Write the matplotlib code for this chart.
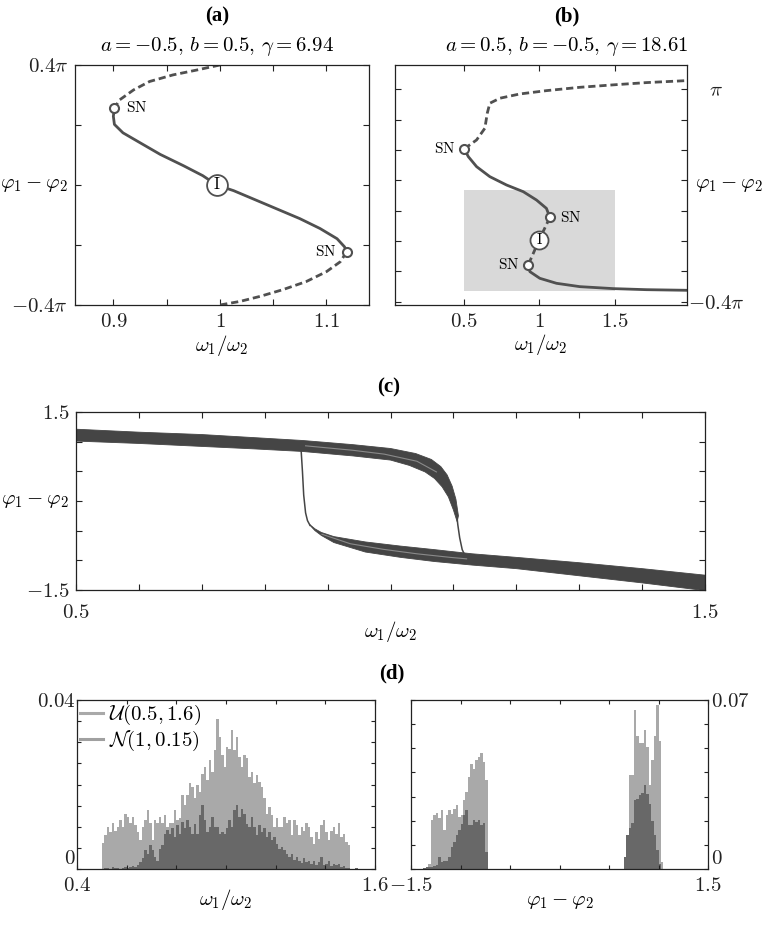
import numpy as np
import matplotlib
matplotlib.use("Agg")
import matplotlib.pyplot as plt
from matplotlib.lines import Line2D

# ---------------- data ----------------
# panel (a): a=-0.5, b=0.5, gamma=6.94 ; phase difference in units of pi
a_dash_top_x = [1.000, 0.978, 0.956, 0.934, 0.919, 0.906, 0.901]
a_dash_top_y = [0.400, 0.383, 0.367, 0.345, 0.317, 0.284, 0.257]
a_solid_x = [0.901, 0.900, 0.901, 0.909, 0.925, 0.944, 0.966, 0.984, 0.997,
             1.013, 1.031, 1.053, 1.075, 1.094, 1.110, 1.117, 1.119]
a_solid_y = [0.257, 0.229, 0.202, 0.174, 0.141, 0.102, 0.064, 0.031, 0.000,
             -0.019, -0.046, -0.079, -0.112, -0.145, -0.179, -0.206, -0.223]
a_dash_bot_x = [1.119, 1.113, 1.100, 1.081, 1.059, 1.038, 1.019, 1.000]
a_dash_bot_y = [-0.223, -0.256, -0.289, -0.322, -0.349, -0.371, -0.388, -0.400]
a_sn_x = [0.901, 1.119]
a_sn_y = [0.257, -0.223]
a_i_x = [0.997]
a_i_y = [0.000]

# panel (b): a=0.5, b=-0.5, gamma=18.61 ; phase difference in units of pi
b_dash_top_x = [0.500, 0.582, 0.637, 0.653, 0.670, 0.737, 0.869, 1.046, 1.268, 1.489, 1.710, 1.976]
b_dash_top_y = [0.607, 0.666, 0.743, 0.842, 0.908, 0.941, 0.969, 0.991, 1.013, 1.029, 1.044, 1.057]
b_solid1_x = [0.500, 0.527, 0.582, 0.670, 0.781, 0.892, 0.980, 1.046, 1.069]
b_solid1_y = [0.607, 0.556, 0.490, 0.424, 0.369, 0.325, 0.270, 0.215, 0.156]
b_dash_mid_x = [1.069, 0.998, 0.925]
b_dash_mid_y = [0.156, 0.007, -0.158]
b_solid2_x = [0.925, 0.936, 1.002, 1.113, 1.268, 1.489, 1.710, 1.976]
b_solid2_y = [-0.158, -0.202, -0.246, -0.279, -0.301, -0.314, -0.321, -0.325]
b_sn_x = [0.500, 1.069, 0.925]
b_sn_y = [0.607, 0.156, -0.158]
b_i_x = [0.998]
b_i_y = [0.007]
b_box_x = [0.5, 1.5]
b_box_y = [-0.333, 0.333]

# panel (c): band of trajectories
c_up_top_x = [0.50, 0.60, 0.70, 0.78, 0.86, 0.94, 1.00, 1.04, 1.065, 1.08, 1.09, 1.098, 1.104, 1.108]
c_up_top_y = [1.21, 1.16, 1.12, 1.07, 1.02, 0.95, 0.885, 0.80, 0.70, 0.58, 0.44, 0.25, 0.03, -0.25]
c_up_bot_x = [0.50, 0.60, 0.70, 0.78, 0.86, 0.94, 1.00, 1.03, 1.055, 1.07, 1.082, 1.092, 1.100, 1.106]
c_up_bot_y = [1.01, 0.97, 0.92, 0.88, 0.835, 0.76, 0.69, 0.60, 0.49, 0.38, 0.24, 0.07, -0.15, -0.35]
c_lo_top_x = [0.872, 0.880, 0.890, 0.91, 0.96, 1.016, 1.07, 1.13, 1.20, 1.30, 1.40, 1.50]
c_lo_top_y = [-0.40, -0.47, -0.53, -0.60, -0.69, -0.76, -0.82, -0.89, -0.95, -1.04, -1.14, -1.25]
c_lo_bot_x = [0.872, 0.880, 0.890, 0.91, 0.96, 1.016, 1.07, 1.13, 1.20, 1.30, 1.40, 1.50]
c_lo_bot_y = [-0.41, -0.50, -0.58, -0.70, -0.86, -0.95, -1.02, -1.08, -1.14, -1.26, -1.38, -1.51]
c_jump_left_x = [0.858, 0.860, 0.862, 0.865, 0.868, 0.872]
c_jump_left_y = [0.84, 0.50, 0.10, -0.20, -0.33, -0.41]
c_jump_right_x = [1.104, 1.107, 1.110, 1.114, 1.119, 1.126]
c_jump_right_y = [-0.10, -0.40, -0.62, -0.82, -0.93, -0.97]
c_strand_up_x = [0.865, 0.94, 0.99, 1.042, 1.073]
c_strand_up_y = [0.93, 0.855, 0.79, 0.67, 0.49]
c_strand_lo_x = [0.891, 0.936, 0.989, 1.042, 1.095, 1.121]
c_strand_lo_y = [-0.56, -0.72, -0.815, -0.89, -0.95, -0.975]

# panel (d) left: histograms of omega1/omega2 (bin width 0.01 starting at 0.50)
d1_bin_start = 0.50
d1_bin_width = 0.01
d1_light = np.array([
    6.2, 8.0, 10.0, 8.8, 11.0, 9.0, 10.0, 11.5, 10.0, 13.0,
    12.3, 11.0, 12.3, 10.3, 8.8, 6.8, 10.0, 11.5, 13.9, 11.0,
    6.8, 11.5, 11.0, 12.3, 11.0, 12.7, 10.0, 11.0, 11.0, 13.9,
    11.5, 12.0, 17.5, 15.1, 17.5, 20.3, 19.5, 16.7, 19.9, 18.3,
    22.6, 24.2, 21.0, 25.8, 23.0, 28.1, 35.6, 31.3, 27.0, 24.2,
    28.9, 28.5, 32.9, 28.1, 31.3, 26.6, 24.2, 27.0, 26.2, 21.8,
    23.0, 20.3, 22.2, 20.6, 19.5, 16.7, 13.1, 14.7, 12.7, 10.0,
    12.0, 10.0, 10.0, 12.3, 11.0, 11.5, 8.0, 11.5, 10.3, 8.0,
    10.0, 9.0, 11.0, 10.0, 7.6, 6.0, 8.8, 7.2, 10.3, 11.5,
    8.8, 6.8, 9.0, 10.0, 8.4, 11.0, 7.6, 8.4, 6.4, 5.6]) * 1e-3
d1_dark = np.array([
    0.0, 0.3, 0.2, 0.0, 0.4, 0.2, 0.3, 0.0, 0.2, 0.5,
    0.3, 0.4, 0.6, 0.5, 1.0, 1.7, 2.5, 4.4, 3.6, 5.6,
    4.4, 2.8, 2.0, 4.8, 5.6, 8.4, 9.3, 8.4, 9.6, 7.6,
    10.4, 8.4, 11.1, 9.6, 11.5, 10.0, 8.4, 10.7, 8.4, 12.7,
    15.1, 11.5, 8.8, 10.0, 12.3, 10.0, 10.0, 8.4, 8.8, 8.4,
    9.6, 11.5, 10.0, 13.9, 15.1, 12.3, 14.3, 13.1, 10.7, 10.0,
    12.3, 10.0, 8.0, 10.4, 8.8, 9.6, 7.6, 8.8, 6.8, 7.6,
    6.0, 4.8, 5.2, 4.4, 3.6, 2.8, 3.6, 2.2, 2.8, 2.0,
    1.4, 2.5, 1.7, 2.0, 1.1, 1.9, 0.9, 1.7, 2.8, 0.9,
    1.3, 2.0, 0.6, 1.3, 0.9, 1.1, 0.5, 0.6, 0.3, 0.2,
    0.0, 0.0, 0.3, 0.0, 0.0]) * 1e-3

# panel (d) right: histograms of phi1 - phi2 (bin width 0.025)
d2_bin_width = 0.025
d2_left_start = -1.375
d2_left_light = np.array([0, 0, 2.2, 20.2, 22.2, 23.2, 21.3, 24.3, 16.0, 22.2, 24.6, 22.9, 25.0,
                          26.4, 21.5, 22.2, 28.5, 31.9, 38.2, 43.4, 41.6, 45.1, 46.2, 48.1, 44.4, 36.8]) * 1e-3
d2_left_dark = np.array([0.5, 0.7, 1.0, 1.0, 1.2, 1.5, 4.9, 2.8, 3.5, 3.5, 4.9, 9.1, 11.1,
                         13.9, 16.0, 18.8, 22.2, 24.3, 18.1, 18.1, 20.2, 19.5, 20.2, 18.1, 19.0, 7.0]) * 1e-3
d2_right_start = 0.65
d2_right_light = np.array([0, 9, 39, 39, 66, 55, 52, 52, 57.5, 50.6, 35, 45, 55, 68, 53, 3]) * 1e-3
d2_right_dark = np.array([5, 14, 17, 19, 28.5, 29, 30.5, 31.5, 34.7, 31, 27, 20, 14, 8, 2, 0]) * 1e-3

legend_labels = [r'$\mathcal{U}(0.5, 1.6)$', r'$\mathcal{N}(1, 0.15)$']

# ---------------- style ----------------
plt.rcParams['font.family'] = ['Liberation Serif', 'DejaVu Serif']
plt.rcParams['mathtext.fontset'] = 'cm'
plt.rcParams['font.size'] = 15
plt.rcParams['axes.linewidth'] = 0.9
plt.rcParams['xtick.direction'] = 'in'
plt.rcParams['ytick.direction'] = 'in'

LINE = '#505050'
BAND = '#454545'
LIGHT = '#a9a9a9'
DARK = '#686868'

W, H = 767, 926
fig = plt.figure(figsize=(W / 100, H / 100), dpi=100)


def rect(l, r, t, b):
    return [l / W, 1 - b / H, (r - l) / W, (b - t) / H]


def ticks_style(ax, xpad=5.5, ypad=5):
    ax.tick_params(axis='both', which='both', direction='in', length=4, width=0.8,
                   top=True, right=True, labelsize=15, colors='#222222')
    ax.tick_params(axis='x', pad=xpad)
    ax.tick_params(axis='y', pad=ypad)
    for s in ax.spines.values():
        s.set_color('#222222')


def m(s):
    return '$' + s + '$'


# ---------------- (a) ----------------
axA = fig.add_axes(rect(75, 369, 65, 305))
axA.plot(a_dash_top_x, a_dash_top_y, color=LINE, lw=2.0, dashes=(2.6, 1.4))
axA.plot(a_solid_x, a_solid_y, color=LINE, lw=2.0, solid_joinstyle='round')
axA.plot(a_dash_bot_x, a_dash_bot_y, color=LINE, lw=2.0, dashes=(2.6, 1.4))
axA.plot(a_sn_x, a_sn_y, 'o', ms=6.5, mfc='white', mec=LINE, mew=1.5, zorder=5)
axA.plot(a_i_x, a_i_y, 'o', ms=15, mfc='white', mec=LINE, mew=1.3, zorder=5)
axA.text(a_i_x[0], a_i_y[0], m(r'\mathrm{I}'), ha='center', va='center', fontsize=12, zorder=6)
axA.annotate(m(r'\mathrm{SN}'), (a_sn_x[0], a_sn_y[0]), xytext=(8, 0), textcoords='offset points',
             ha='left', va='center', fontsize=11)
axA.annotate(m(r'\mathrm{SN}'), (a_sn_x[1], a_sn_y[1]), xytext=(-7, 0), textcoords='offset points',
             ha='right', va='center', fontsize=11)
axA.set_xlim(0.864, 1.14)
axA.set_ylim(-0.4, 0.4)
axA.set_xticks([0.9, 0.95, 1.0, 1.05, 1.1])
axA.set_xticklabels([m('0.9'), '', m('1'), '', m('1.1')])
axA.set_yticks([-0.4, -0.2, 0.0, 0.2, 0.4])
axA.set_yticklabels([m(r'-0.4\pi'), '', '', '', m(r'0.4\pi')])
ticks_style(axA)
axA.set_xlabel(m(r'\omega_1/\omega_2'), fontsize=15, va='center')
axA.xaxis.set_label_coords(0.5, -0.167)
axA.set_ylabel(m(r'\varphi_1-\varphi_2'), fontsize=15, rotation=0, ha='right', va='center')
axA.yaxis.set_label_coords(-0.024, 0.5)

# ---------------- (b) ----------------
axB = fig.add_axes(rect(395, 687, 65, 305))
axB.fill_between(b_box_x, b_box_y[0], b_box_y[1], color='#d9d9d9', lw=0, zorder=0)
axB.plot(b_dash_top_x, b_dash_top_y, color=LINE, lw=2.0, dashes=(2.6, 1.4))
axB.plot(b_solid1_x, b_solid1_y, color=LINE, lw=2.0)
axB.plot(b_dash_mid_x, b_dash_mid_y, color=LINE, lw=2.0, dashes=(2.6, 1.4))
axB.plot(b_solid2_x, b_solid2_y, color=LINE, lw=2.0)
axB.plot(b_sn_x, b_sn_y, 'o', ms=6.5, mfc='white', mec=LINE, mew=1.5, zorder=5)
axB.plot(b_i_x, b_i_y, 'o', ms=13, mfc='white', mec=LINE, mew=1.3, zorder=5)
axB.text(b_i_x[0], b_i_y[0], m(r'\mathrm{I}'), ha='center', va='center', fontsize=11, zorder=6)
axB.annotate(m(r'\mathrm{SN}'), (b_sn_x[0], b_sn_y[0]), xytext=(-6, 0), textcoords='offset points',
             ha='right', va='center', fontsize=11)
axB.annotate(m(r'\mathrm{SN}'), (b_sn_x[1], b_sn_y[1]), xytext=(7, 0), textcoords='offset points',
             ha='left', va='center', fontsize=11)
axB.annotate(m(r'\mathrm{SN}'), (b_sn_x[2], b_sn_y[2]), xytext=(-6, 0), textcoords='offset points',
             ha='right', va='center', fontsize=11)
axB.set_xlim(0.04, 1.98)
axB.set_ylim(-0.422, 1.16)
axB.set_xticks([0.5, 1.0, 1.5])
axB.set_xticklabels([m('0.5'), m('1'), m('1.5')])
axB.set_yticks([-0.4, -0.2, 0.0, 0.2, 0.4, 0.6, 0.8, 1.0])
axB.set_yticklabels([m(r'-0.4\pi'), '', '', '', '', '', '', m(r'\pi')])
ticks_style(axB, ypad=21)
axB.tick_params(axis='y', labelleft=False, labelright=True)
for t in axB.get_yticklabels():
    t.set_ha('center')
axB.set_xlabel(m(r'\omega_1/\omega_2'), fontsize=15, va='center')
axB.xaxis.set_label_coords(0.5, -0.163)
axB.yaxis.set_label_position('right')
axB.set_ylabel(m(r'\varphi_1-\varphi_2'), fontsize=15, rotation=0, ha='left', va='center')
axB.yaxis.set_label_coords(1.027, 0.5)

# ---------------- (c) ----------------
axC = fig.add_axes(rect(76, 705, 412, 590))
axC.fill(np.concatenate([c_up_top_x, c_up_bot_x[::-1]]), np.concatenate([c_up_top_y, c_up_bot_y[::-1]]),
         color=BAND, lw=0.6, ec=BAND)
axC.fill(np.concatenate([c_lo_top_x, c_lo_bot_x[::-1]]), np.concatenate([c_lo_top_y, c_lo_bot_y[::-1]]),
         color=BAND, lw=0.6, ec=BAND)
axC.plot(c_jump_left_x, c_jump_left_y, color=BAND, lw=1.1)
axC.plot(c_jump_right_x, c_jump_right_y, color=BAND, lw=1.1)
axC.plot(c_strand_up_x, c_strand_up_y, color='#8a8a8a', lw=0.8)
axC.plot(c_strand_lo_x, c_strand_lo_y, color='#8a8a8a', lw=0.8)
axC.set_xlim(0.5, 1.5)
axC.set_ylim(-1.5, 1.5)
cx = np.round(np.arange(0.5, 1.51, 0.1), 2)
axC.set_xticks(cx)
axC.set_xticklabels([m('0.5')] + [''] * 9 + [m('1.5')])
axC.set_yticks([-1.5, -1.0, -0.5, 0.0, 0.5, 1.0, 1.5])
axC.set_yticklabels([m('-1.5'), '', '', '', '', '', m('1.5')])
ticks_style(axC, xpad=10, ypad=4.5)
axC.set_xlabel(m(r'\omega_1/\omega_2'), fontsize=15, va='center')
axC.xaxis.set_label_coords(0.5, -0.235)
axC.set_ylabel(m(r'\varphi_1-\varphi_2'), fontsize=15, rotation=0, ha='right', va='center')
axC.yaxis.set_label_coords(-0.0105, 0.5)

# ---------------- (d) left ----------------
axD1 = fig.add_axes(rect(77, 375, 700, 869))
e_light = d1_bin_start + d1_bin_width * np.arange(len(d1_light) + 1)
e_dark = d1_bin_start + d1_bin_width * np.arange(len(d1_dark) + 1)
axD1.stairs(d1_light, e_light, fill=True, color=LIGHT, lw=0)
axD1.stairs(d1_dark, e_dark, fill=True, color=DARK, lw=0)
axD1.set_xlim(0.4, 1.6)
axD1.set_ylim(0, 0.04)
axD1.set_xticks(np.round(np.arange(0.4, 1.61, 0.2), 2))
axD1.set_xticklabels([m('0.4')] + [''] * 5 + [m('1.6')])
axD1.set_yticks(np.round(np.arange(0, 0.0401, 0.005), 4))
axD1.set_yticklabels([m('0')] + [''] * 7 + [m('0.04')])
ticks_style(axD1, xpad=6, ypad=1)
axD1.tick_params(length=3)
axD1.get_yticklabels()[0].set_va('bottom')
axD1.set_xlabel(m(r'\omega_1/\omega_2'), fontsize=15, va='center')
axD1.xaxis.set_label_coords(0.5, -0.18)
handles = [Line2D([0], [0], color=LIGHT, lw=2.2), Line2D([0], [0], color='#a0a0a0', lw=2.2)]
axD1.legend(handles, legend_labels, loc='upper left', frameon=False, fontsize=15,
            handlelength=1.1, handletextpad=0.3, borderaxespad=0.05, borderpad=0.1,
            labelspacing=0.1)

# ---------------- (d) right ----------------
axD2 = fig.add_axes(rect(411, 708, 700, 869))
el = d2_left_start + d2_bin_width * np.arange(len(d2_left_light) + 1)
er = d2_right_start + d2_bin_width * np.arange(len(d2_right_light) + 1)
axD2.stairs(d2_left_light, el, fill=True, color=LIGHT, lw=0)
axD2.stairs(d2_right_light, er, fill=True, color=LIGHT, lw=0)
axD2.stairs(d2_left_dark, el, fill=True, color=DARK, lw=0)
axD2.stairs(d2_right_dark, er, fill=True, color=DARK, lw=0)
axD2.set_xlim(-1.5, 1.5)
axD2.set_ylim(0, 0.07)
axD2.set_xticks([-1.5, -1.0, -0.5, 0.0, 0.5, 1.0, 1.5])
axD2.set_xticklabels([m('-1.5'), '', '', '', '', '', m('1.5')])
axD2.set_yticks(np.round(np.arange(0, 0.0701, 0.01), 3))
axD2.set_yticklabels([m('0')] + [''] * 6 + [m('0.07')])
ticks_style(axD2, xpad=6, ypad=2)
axD2.tick_params(length=3)
axD2.tick_params(axis='y', labelleft=False, labelright=True)
axD2.get_yticklabels()[0].set_va('bottom')
axD2.set_xlabel(m(r'\varphi_1-\varphi_2'), fontsize=15, va='center')
axD2.xaxis.set_label_coords(0.5, -0.19)

# ---------------- titles ----------------
tkw = dict(ha='center', va='center', fontsize=15, fontweight='bold', family='Liberation Serif')
fig.text(217 / W, 1 - 16 / H, '(a)', **tkw)
fig.text(567 / W, 1 - 16 / H, '(b)', **tkw)
fig.text(389 / W, 1 - 387 / H, '(c)', **tkw)
fig.text(392 / W, 1 - 673 / H, '(d)', **tkw)
fig.text(217 / W, 1 - 47 / H, m(r'a=-0.5,\,b=0.5,\,\gamma=6.94'), ha='center', va='center', fontsize=15)
fig.text(567 / W, 1 - 47 / H, m(r'a=0.5,\,b=-0.5,\,\gamma=18.61'), ha='center', va='center', fontsize=15)

fig.savefig('out.png', dpi=100)
